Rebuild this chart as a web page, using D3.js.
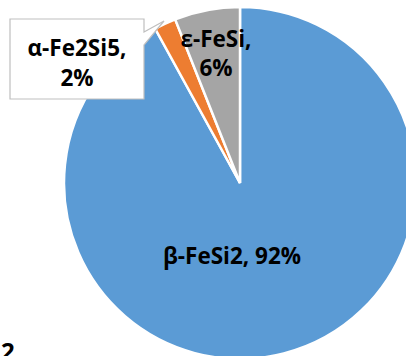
<!DOCTYPE html>
<html>
<head>
<meta charset="utf-8">
<script src="https://cdn.jsdelivr.net/npm/d3@7/dist/d3.min.js"></script>
<style>
  html, body { margin: 0; padding: 0; background: #fff; overflow: hidden; }
  svg { display: block; }
  text { font-family: "Open Sans", Lato, sans-serif; font-weight: bold; fill: #000; }
</style>
</head>
<body>
<script>
// Phase composition (percent)
const phases = ["β-FeSi2", "α-Fe2Si5", "ε-FeSi"];
const shares = [92, 2, 6];
const colors = ["#5B9BD5", "#ED7D31", "#A5A5A5"];

const W = 406, H = 356;
const cx = 240, cy = 183, R = 176;
const labelSize = 22.5;

const svg = d3.select("body").append("svg")
  .attr("width", W).attr("height", H);

const data = phases.map((p, i) => ({ name: p, value: shares[i], color: colors[i] }));

const pie = d3.pie().sort(null).value(d => d.value);
const arc = d3.arc().innerRadius(0).outerRadius(R);
const arcs = pie(data);

const g = svg.append("g").attr("transform", `translate(${cx},${cy})`);
g.selectAll("path.slice")
  .data(arcs)
  .join("path")
  .attr("class", "slice")
  .attr("d", arc)
  .attr("fill", d => d.data.color)
  .attr("stroke", "#fff")
  .attr("stroke-width", 2.5)
  .attr("stroke-linejoin", "miter");

// label text for each slice
const labelOf = d => [`${d.data.name},`, `${d.data.value}%`];

// β-FeSi2: single line inside the slice
const big = arcs[0];
g.append("text")
  .attr("x", 232 - cx).attr("y", 264 - cy)
  .attr("text-anchor", "middle")
  .attr("font-size", labelSize)
  .text(`${big.data.name}, ${big.data.value}%`);

// ε-FeSi: two lines inside its slice
const eps = arcs[2];
const epsText = g.append("text")
  .attr("text-anchor", "middle")
  .attr("font-size", labelSize);
labelOf(eps).forEach((s, i) => {
  epsText.append("tspan").attr("x", 216 - cx).attr("y", 47 - cy + i * 29).text(s);
});

// α-Fe2Si5: callout box with a pointer toward its thin slice
const alpha = arcs[1];
const box = { x0: 10, y0: 19, x1: 144, y1: 99 };
const tip = [164, 21];
const callout = d3.path();
callout.moveTo(box.x0, box.y0);
callout.lineTo(box.x1, box.y0);
callout.lineTo(box.x1, box.y0 + 13);
callout.lineTo(tip[0], tip[1]);
callout.lineTo(box.x1, box.y0 + 26);
callout.lineTo(box.x1, box.y1);
callout.lineTo(box.x0, box.y1);
callout.closePath();
svg.append("path")
  .attr("d", callout.toString())
  .attr("fill", "#fff")
  .attr("stroke", "#BFBFBF")
  .attr("stroke-width", 1.2);

const alphaText = svg.append("text")
  .attr("text-anchor", "middle")
  .attr("font-size", labelSize);
labelOf(alpha).forEach((s, i) => {
  alphaText.append("tspan").attr("x", 77).attr("y", 56 + i * 30).text(s);
});

// figure number, partly below the frame
svg.append("text")
  .attr("x", 1).attr("y", 360)
  .attr("font-size", 24)
  .text("2");
</script>
</body>
</html>
